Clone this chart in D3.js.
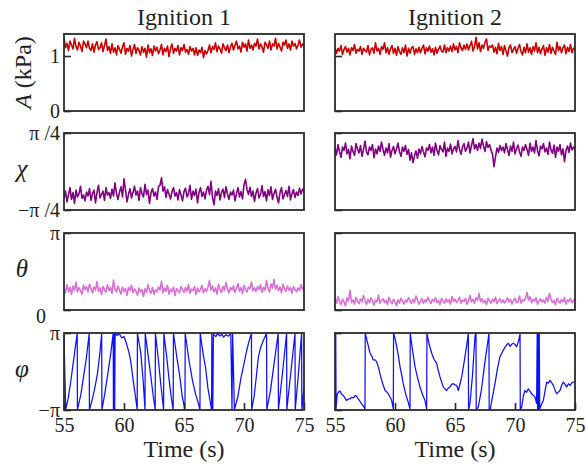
<!DOCTYPE html>
<html>
<head>
<meta charset="utf-8">
<script src="https://cdn.jsdelivr.net/npm/d3@7"></script>
<style>
  body { margin: 0; background: #fff; }
  svg { display: block; }
  text { font-family: "Liberation Serif", "Times New Roman", serif; fill: #222; }
</style>
</head>
<body>
<svg id="chart" width="586" height="468"></svg>
<script>
// ---- data -------------------------------------------------------------
const runTitles = ["Ignition 1", "Ignition 2"];
const timeTicks = [55, 60, 65, 70, 75];
const timeDomain = [55, 75];
const tStart = 55, tStep = 0.125;   // sample clock of the noisy traces

// Pressure amplitude A (kPa)
const ampIgn1 = [1.33,1.15,1.23,1.10,1.27,1.20,1.13,1.32,1.17,1.11,1.25,1.18,1.08,1.27,1.22,1.15,
  1.27,1.14,1.10,1.22,1.07,1.20,1.26,1.12,1.15,1.24,1.08,1.19,1.31,1.10,1.17,1.05,
  1.22,1.07,1.15,1.02,1.19,1.12,1.05,1.17,1.24,1.03,1.14,1.09,1.19,1.00,1.12,1.21,1.05,1.15,1.10,1.02,1.17,1.07,1.14,0.98,
  1.20,1.06,1.13,1.01,1.18,1.09,1.16,1.04,1.11,1.21,1.02,1.14,1.08,1.18,0.99,1.13,
  1.22,1.05,1.14,1.09,1.19,1.02,1.15,1.10,1.21,1.07,1.12,1.03,1.17,1.09,1.14,1.02,
  1.15,1.01,1.11,1.06,1.16,0.97,1.10,1.04,
  1.10,1.20,1.06,1.17,1.12,1.24,1.08,1.18,1.13,1.05,1.22,1.15,1.10,1.20,1.06,1.17,
  1.23,1.11,1.20,1.27,1.13,1.18,1.07,1.25,1.16,1.22,1.09,1.29,1.14,1.20,1.11,1.23,1.18,1.31,1.13,1.22,1.16,1.07,1.25,1.20,
  1.14,1.27,1.11,1.22,1.18,1.32,1.13,1.23,1.16,1.09,1.25,1.20,1.29,1.14,1.22,1.11,1.27,1.18,1.23,1.13,1.20,1.29,1.16,1.22,1.18];
const ampIgn2 = [1.15,1.05,1.14,1.09,1.19,1.03,1.12,1.17,1.07,1.14,1.02,1.15,1.10,1.21,1.05,1.12,
  1.09,1.17,1.03,1.14,1.10,1.07,1.19,1.02,1.12,1.15,1.05,1.24,1.09,1.14,1.03,1.17,
  1.12,1.24,1.06,1.15,1.03,1.13,1.19,1.05,1.14,1.01,1.17,1.08,1.03,1.15,1.06,1.20,1.00,1.14,1.05,1.15,1.17,1.03,1.13,1.06,
  1.16,1.06,1.14,1.20,1.04,1.15,1.09,1.18,1.07,1.13,1.02,1.16,1.05,1.12,1.18,1.09,
  1.07,1.20,1.06,1.15,1.09,1.18,1.08,1.22,1.11,1.17,1.06,1.24,1.15,1.10,1.20,1.12,
  1.22,1.11,1.19,1.27,1.09,1.17,1.34,1.13,1.24,1.08,1.20,1.14,1.25,1.31,1.10,1.18,
  1.16,1.20,1.07,1.16,1.04,1.23,1.10,1.17,1.03,1.19,1.09,1.00,1.15,1.20,1.06,1.12,
  1.17,1.05,1.14,1.21,1.08,1.02,1.16,1.06,1.22,1.07,1.15,1.03,1.17,1.09,1.24,1.06,1.16,1.04,1.13,1.19,
  1.01,1.15,1.07,1.21,1.05,1.16,1.09,1.03,1.25,1.10,1.17,1.06,1.15,1.20,1.04,1.16,1.08,1.21,1.06,1.14,1.13];

// Polarisation ellipticity angle chi (rad)
const chiIgn1 = [-0.54,-0.40,-0.62,-0.47,-0.33,-0.57,-0.43,-0.65,-0.38,-0.52,-0.45,-0.30,-0.55,-0.48,-0.60,-0.42,
  -0.50,-0.35,-0.59,-0.45,-0.38,-0.64,-0.43,-0.28,-0.54,-0.47,-0.40,-0.59,-0.33,-0.48,-0.43,-0.55,
  -0.36,-0.50,-0.23,-0.45,-0.57,-0.42,-0.31,-0.52,-0.15,-0.38,-0.62,-0.47,-0.35,-0.54,-0.43,-0.30,
  -0.48,-0.40,-0.59,-0.33,-0.45,-0.52,-0.26,-0.47,-0.38,-0.65,-0.43,-0.35,-0.50,-0.42,-0.57,-0.31,
  -0.28,-0.13,-0.40,-0.31,-0.53,-0.37,-0.46,-0.56,-0.41,-0.33,-0.50,-0.43,-0.58,-0.37,-0.48,-0.60,
  -0.41,-0.34,-0.52,-0.45,-0.28,-0.57,-0.40,-0.49,-0.36,-0.64,-0.43,-0.33,-0.51,-0.42,-0.56,-0.38,
  -0.30,-0.47,-0.20,-0.53,-0.68,-0.40,-0.49,-0.35,-0.58,-0.43,-0.36,-0.53,-0.31,-0.46,-0.57,-0.42,
  -0.48,-0.38,-0.60,-0.45,-0.33,-0.52,-0.41,-0.56,-0.27,-0.16,-0.37,-0.47,-0.32,-0.51,-0.40,-0.61,
  -0.44,-0.35,-0.54,-0.47,-0.29,-0.51,-0.41,-0.60,-0.37,-0.49,-0.31,-0.57,-0.45,-0.36,-0.52,-0.64,
  -0.43,-0.33,-0.56,-0.47,-0.39,-0.51,-0.30,-0.58,-0.45,-0.37,-0.53,-0.42,-0.49,-0.34,-0.46,-0.36,-0.40];
const chiIgn2 = [0.48,0.34,0.55,0.40,0.29,0.50,0.43,0.58,0.36,0.45,0.26,0.52,0.41,0.33,0.57,0.46,
  0.38,0.53,0.31,0.45,0.62,0.40,0.34,0.50,0.43,0.55,0.28,0.46,0.36,0.52,0.41,0.60,
  0.45,0.33,0.48,0.38,0.57,0.29,0.43,0.51,0.36,0.46,0.58,0.40,0.31,0.50,0.41,0.53,
  0.35,0.45,0.23,0.38,0.18,0.32,0.42,0.27,0.46,0.36,0.51,0.40,0.30,0.48,0.43,0.55,
  0.38,0.50,0.33,0.58,0.43,0.34,0.53,0.45,0.40,0.60,0.31,0.48,0.41,0.56,0.36,0.46,
  0.51,0.40,0.63,0.45,0.35,0.50,0.57,0.41,0.48,0.60,0.38,0.53,0.67,0.46,0.55,0.43,
  0.58,0.47,0.66,0.52,0.41,0.61,0.49,0.55,0.44,0.36,0.10,0.30,0.48,0.39,0.53,0.43,
  0.50,0.38,0.57,0.45,0.33,0.52,0.41,0.60,0.36,0.46,0.54,0.40,0.31,0.50,0.43,0.55,
  0.45,0.33,0.58,0.41,0.50,0.38,0.63,0.43,0.32,0.52,0.46,0.57,0.40,0.48,0.35,0.60,
  0.44,0.37,0.54,0.29,0.50,0.41,0.55,0.34,0.46,0.20,0.43,0.52,0.39,0.58,0.44,0.50,0.45];

// Polarisation orientation angle theta (rad)
const thetaIgn1 = [0.86,0.70,1.03,0.75,0.93,0.63,0.98,0.80,1.13,0.73,0.91,0.78,0.65,1.01,0.83,0.96,
  0.74,1.05,0.87,0.70,0.94,0.81,1.16,0.76,0.90,0.63,0.96,0.83,0.72,1.03,0.79,0.92,
  0.68,1.22,0.85,0.74,0.98,0.81,0.65,0.94,0.76,0.87,0.59,0.92,0.79,1.01,0.72,0.86,
  0.76,0.61,0.90,0.74,0.83,0.55,0.87,0.72,1.03,0.79,0.68,0.92,0.63,0.83,0.74,0.94,
  0.81,1.18,0.70,0.90,0.76,1.01,0.65,0.85,0.74,0.94,0.59,0.87,0.79,0.70,0.96,0.83,
  0.72,0.92,0.76,1.05,0.68,0.85,0.79,0.96,0.63,0.90,0.74,0.83,1.01,0.70,0.87,0.76,
  0.94,1.20,0.81,0.98,0.74,0.90,0.65,1.05,0.83,0.72,0.96,0.79,1.12,0.85,0.70,0.92,
  0.81,0.98,0.72,0.90,1.07,0.76,0.92,0.68,1.01,0.83,0.74,0.94,0.87,1.14,0.79,0.90,
  0.76,0.96,0.83,1.03,0.72,0.92,0.81,1.20,0.87,0.74,1.07,0.90,1.24,0.85,1.01,0.79,
  0.94,0.70,1.05,0.87,0.76,0.98,0.81,0.92,0.68,0.96,0.83,0.74,0.90,0.79,1.03,0.85,0.94];
const thetaIgn2 = [0.48,0.28,0.55,0.35,0.22,0.44,0.33,0.17,0.50,0.37,0.80,0.30,0.41,0.24,0.52,0.35,
  0.26,0.46,0.33,0.59,0.39,0.22,0.44,0.30,0.50,0.37,0.19,0.41,0.33,0.61,0.28,0.39,
  0.46,0.30,0.40,0.22,0.52,0.35,0.26,0.44,0.33,0.17,0.42,0.28,0.48,0.35,0.24,0.41,
  0.33,0.50,0.39,0.26,0.44,0.30,0.57,0.39,0.24,0.35,0.46,0.28,0.41,0.33,0.52,0.37,
  0.26,0.44,0.35,0.50,0.30,0.39,0.22,0.48,0.37,0.28,0.46,0.33,0.41,0.24,0.55,0.35,
  0.44,0.30,0.39,0.52,0.28,0.41,0.35,0.48,0.24,0.37,0.59,0.33,0.44,0.28,0.50,0.39,
  0.68,0.35,0.46,0.30,0.39,0.22,0.48,0.37,0.28,0.44,0.33,0.52,0.26,0.39,0.46,0.30,
  0.41,0.28,0.37,0.50,0.33,0.44,0.24,0.39,0.48,0.30,0.35,0.57,0.28,0.41,0.37,0.46,
  0.72,0.39,0.55,0.30,0.44,0.35,0.50,0.24,0.37,0.46,0.33,0.41,0.28,0.52,0.35,0.68,
  0.44,0.30,0.39,0.22,0.48,0.37,0.28,0.44,0.33,0.50,0.24,0.41,0.35,0.48,0.30,0.39,0.46];

// Wrapped phase phi (rad): [time (s), phase]
const phiIgn1 = [[55.00,2.95],[55.14,-3.10],[55.35,-2.20],[55.55,-0.90],[55.70,0.20],[55.85,1.30],[56.10,3.12],[56.12,-3.12],
  [56.40,-1.90],[56.60,-0.60],[56.85,1.00],[57.10,3.12],[57.12,-3.12],[57.35,-2.30],[57.60,-1.20],[57.80,-0.10],[58.00,1.60],
  [58.14,3.12],[58.16,-3.12],[58.40,-1.80],[58.65,-0.20],[58.90,1.50],[59.10,3.12],[59.12,-3.12],[59.18,3.12],[59.22,-3.12],
  [59.26,3.05],[59.45,2.95],[59.60,3.10],[59.80,2.75],[60.00,2.85],[60.20,2.30],[60.40,1.60],[60.55,0.90],[60.75,-0.60],
  [60.95,-2.00],[61.10,-3.12],[61.12,3.12],[61.40,1.50],[61.60,-0.80],[61.75,-3.12],[61.77,3.12],[62.00,1.40],[62.25,-0.50],
  [62.45,-2.10],[62.60,-3.12],[62.62,3.12],[62.85,1.10],[63.05,-0.90],[63.30,-3.12],[63.32,3.12],[63.55,1.30],[63.75,-0.60],
  [63.95,-2.20],[64.10,-3.12],[64.12,3.12],[64.40,1.20],[64.65,-0.40],[64.85,-2.00],[65.08,-3.12],[65.10,3.12],[65.40,1.00],
  [65.70,-0.70],[65.95,-1.80],[66.20,-2.60],[66.33,-3.12],[66.35,3.12],[66.60,1.40],[66.80,0.30],[67.00,-1.40],[67.30,-3.12],
  [67.32,3.12],[67.40,-3.12],[67.45,3.05],[67.65,2.85],[67.80,3.10],[68.00,2.90],[68.15,3.05],[68.30,2.80],[68.50,3.00],
  [68.70,2.88],[68.90,3.10],[69.00,-3.12],[69.05,3.12],[69.20,-3.12],[69.50,-2.00],[69.75,-0.50],[69.95,0.40],[70.20,1.60],
  [70.40,2.40],[70.62,3.12],[70.64,-3.12],[70.85,-2.00],[71.05,-0.20],[71.20,1.20],[71.40,2.00],[71.60,2.50],[71.88,3.12],
  [71.90,-3.12],[72.20,-1.60],[72.50,0.60],[72.85,3.12],[72.87,-3.12],[73.20,-0.20],[73.55,3.12],[73.57,-3.12],[73.90,-0.10],
  [74.25,3.12],[74.27,-3.12],[74.50,-0.60],[74.80,3.12],[74.82,-3.12],[75.00,-1.30]];
const phiIgn2 = [[55.00,3.10],[55.03,-3.10],[55.06,3.10],[55.09,-3.00],[55.18,-1.90],[55.28,-1.68],[55.42,-1.60],[55.55,-1.85],
  [55.69,-1.96],[55.85,-2.20],[55.97,-2.37],[56.10,-2.25],[56.25,-2.23],[56.40,-2.10],[56.53,-2.15],[56.70,-1.95],[56.81,-2.04],
  [56.94,-2.23],[57.10,-2.45],[57.22,-2.65],[57.38,-2.85],[57.50,-3.06],[57.52,3.12],[57.70,2.40],[57.92,1.49],[58.05,1.30],
  [58.19,0.94],[58.33,0.95],[58.47,0.80],[58.61,0.38],[58.75,-0.20],[58.89,-0.72],[59.05,-1.20],[59.17,-1.55],[59.30,-1.65],
  [59.44,-1.82],[59.60,-2.10],[59.72,-2.37],[59.86,-3.06],[59.88,3.12],[60.00,2.70],[60.14,2.04],[60.28,1.30],[60.42,0.38],
  [60.55,-0.25],[60.69,-0.99],[60.83,-1.60],[60.97,-2.10],[61.10,-2.50],[61.25,-3.06],[61.27,3.12],[61.45,1.80],[61.67,0.38],
  [61.85,-0.40],[62.08,-1.27],[62.30,-1.90],[62.50,-2.37],[62.64,-3.06],[62.66,3.12],[62.85,2.20],[63.06,1.49],[63.25,1.00],
  [63.47,0.66],[63.60,0.10],[63.75,-0.44],[63.90,-0.90],[64.03,-1.27],[64.15,-1.40],[64.30,-1.55],[64.45,-1.35],[64.58,-1.27],
  [64.72,-1.05],[64.86,-0.99],[65.00,-1.10],[65.14,-1.13],[65.28,-1.55],[65.42,-1.00],[65.56,-0.44],[65.70,0.40],[65.83,1.21],
  [65.97,2.10],[66.11,3.12],[66.13,-3.12],[66.25,-2.60],[66.45,-0.40],[66.67,2.90],[66.75,3.12],[66.77,-3.12],[66.94,-2.90],
  [67.20,-1.50],[67.50,0.80],[67.70,2.20],[67.83,3.12],[67.85,-3.12],[67.95,-3.00],[68.10,-2.20],[68.33,-0.99],[68.55,0.30],
  [68.75,1.21],[68.90,1.50],[69.00,1.70],[69.15,1.95],[69.31,2.18],[69.45,2.30],[69.60,2.05],[69.75,2.25],[69.86,2.31],
  [70.00,2.20],[70.14,2.04],[70.30,2.50],[70.42,3.05],[70.44,-3.12],[70.56,-2.90],[70.70,-2.00],[70.83,-1.55],[70.97,-1.70],
  [71.11,-1.41],[71.25,-1.60],[71.39,-1.82],[71.53,-1.95],[71.67,-2.10],[71.80,-2.60],[71.85,3.12],[71.88,-3.12],[71.92,3.12],
  [71.96,-3.12],[72.02,3.12],[72.06,-3.05],[72.20,-2.70],[72.36,-2.37],[72.50,-1.60],[72.64,-0.86],[72.78,-0.95],[72.92,-0.72],
  [73.05,-0.90],[73.19,-1.13],[73.33,-1.50],[73.47,-1.82],[73.60,-1.70],[73.75,-1.55],[73.90,-1.10],[74.03,-0.86],[74.17,-1.05],
  [74.31,-1.27],[74.45,-1.00],[74.58,-1.13],[74.72,-0.95],[74.86,-0.86],[75.00,-0.80]];

// y-axis ticks per row
const ampTicks = [0, 1],              ampTickLabels = ["0", "1"];
const chiTicks = [-Math.PI/4, Math.PI/4], chiTickLabels = ["\u2212\u03c0 /4", "\u03c0 /4"];
const thetaTicks = [0, Math.PI],      thetaTickLabels = ["0", "\u03c0"];
const phiTicks = [-Math.PI, Math.PI], phiTickLabels = ["\u2212\u03c0", "\u03c0"];

// ---- layout -----------------------------------------------------------
const svg = d3.select("#chart");
const serif = '"Liberation Serif", "Times New Roman", serif';
const colX = [64, 335], panelW = 240;
const rowY = [34, 133, 233, 333], panelH = 77;
const frameColor = "#2b2b2b";

const toSeries = arr => arr.map((v, i) => [tStart + i * tStep, v]);

const rows = [
  { label: "A", unit: " (kPa)", domain: [0, 1.4], ticks: ampTicks, tickLabels: ampTickLabels,
    color: "#c80000", width: 1.6, data: [toSeries(ampIgn1), toSeries(ampIgn2)] },
  { label: "\u03c7", domain: [-Math.PI/4, Math.PI/4], ticks: chiTicks, tickLabels: chiTickLabels,
    color: "#800080", width: 1.6, data: [toSeries(chiIgn1), toSeries(chiIgn2)] },
  { label: "\u03b8", domain: [0, Math.PI], ticks: thetaTicks, tickLabels: thetaTickLabels,
    color: "#da6fd6", width: 1.6, data: [toSeries(thetaIgn1), toSeries(thetaIgn2)] },
  { label: "\u03c6", domain: [-Math.PI, Math.PI], ticks: phiTicks, tickLabels: phiTickLabels,
    color: "#1010f5", width: 1.25, data: [phiIgn1, phiIgn2] }
];

const defs = svg.append("defs");

rows.forEach((row, r) => {
  colX.forEach((x0, c) => {
    const y0 = rowY[r];
    const x = d3.scaleLinear().domain(timeDomain).range([x0, x0 + panelW]);
    const y = d3.scaleLinear().domain(row.domain).range([y0 + panelH, y0]);
    const clipId = `clip-${r}-${c}`;
    defs.append("clipPath").attr("id", clipId)
      .append("rect").attr("x", x0).attr("y", y0).attr("width", panelW).attr("height", panelH);

    // trace
    svg.append("path")
      .datum(row.data[c])
      .attr("clip-path", `url(#${clipId})`)
      .attr("fill", "none")
      .attr("stroke", row.color)
      .attr("stroke-width", row.width)
      .attr("stroke-linejoin", "round")
      .attr("d", d3.line().x(d => x(d[0])).y(d => y(d[1])));

    // y axis (ticks inward)
    const yAxis = d3.axisLeft(y)
      .tickValues(row.ticks)
      .tickSizeInner(-7).tickSizeOuter(0)
      .tickPadding(4)
      .tickFormat((d, i) => c === 0 ? row.tickLabels[i] : "");
    const gy = svg.append("g").attr("transform", `translate(${x0},0)`)
      .call(yAxis).attr("font-family", serif);
    gy.select(".domain").remove();
    gy.selectAll("line").attr("stroke", frameColor).attr("stroke-width", 1.6);
    gy.selectAll("text").attr("font-size", 20).attr("fill", "#222")
      .style("font-family", serif);
    if (r === 2 && c === 0) {
      gy.selectAll("text").filter((d, i) => i === 0).attr("dx", -14).attr("dy", "0.6em");
    }

    // x axis only on the bottom row
    if (r === rows.length - 1) {
      const xAxis = d3.axisBottom(x)
        .tickValues(timeTicks)
        .tickSizeInner(-7).tickSizeOuter(0)
        .tickPadding(8)
        .tickFormat(d3.format("d"));
      const gx = svg.append("g").attr("transform", `translate(0,${y0 + panelH})`)
        .call(xAxis).attr("font-family", serif);
      gx.select(".domain").remove();
      gx.selectAll("line").attr("stroke", frameColor).attr("stroke-width", 1.6);
      gx.selectAll("text").attr("font-size", 20).attr("fill", "#222")
        .style("font-family", serif);

      svg.append("text")
        .attr("x", x0 + panelW / 2).attr("y", 457)
        .attr("text-anchor", "middle").attr("font-size", 24)
        .text("Time (s)");
    }

    // frame
    svg.append("rect")
      .attr("x", x0).attr("y", y0).attr("width", panelW).attr("height", panelH)
      .attr("fill", "none").attr("stroke", frameColor).attr("stroke-width", 1.8);

    if (r === 0) {
      svg.append("text")
        .attr("x", x0 + panelW / 2).attr("y", 25)
        .attr("text-anchor", "middle").attr("font-size", 24)
        .attr("fill", "#333")
        .text(runTitles[c]);
    }
  });

  // row label
  const cy = rowY[r] + panelH / 2;
  if (r === 0) {
    const t = svg.append("text")
      .attr("transform", `translate(31,${cy}) rotate(-90)`)
      .attr("text-anchor", "middle").attr("font-size", 24).attr("fill", "#333");
    t.append("tspan").attr("font-style", "italic").text(row.label);
    t.append("tspan").text(row.unit);
  } else {
    svg.append("text")
      .attr("x", 22).attr("y", cy + 5)
      .attr("text-anchor", "middle").attr("font-size", 25)
      .attr("font-style", "italic").attr("fill", "#333")
      .text(row.label);
  }
});
</script>
</body>
</html>
